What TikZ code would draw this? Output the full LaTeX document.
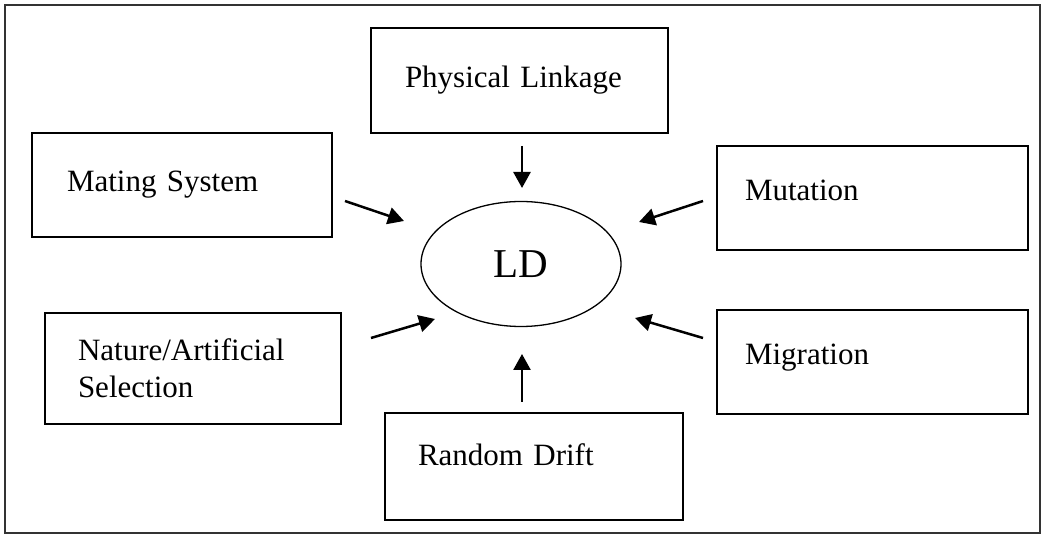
\documentclass[tikz,border=0pt]{standalone}
\usepackage{fontspec}
\setmainfont{Liberation Serif}
\usetikzlibrary{arrows.meta,shapes.geometric}

\tikzset{
    factor/.style={draw, line width=0.65pt, rectangle, align=left, inner ysep=0pt, font=\fontsize{15.5}{18.5}\selectfont},
    push/.style={line width=1.25pt, -{Triangle[length=8pt,width=8.5pt]}},
}

\begin{document}
\begin{tikzpicture}[x=0.5pt, y=-0.5pt]
    \useasboundingbox (0,0) rectangle (1045,539);

    % Outer frame
    \draw[line width=0.6pt, black!80] (5,5) rectangle (1040,533);

    % Central ellipse
    \node[ellipse, draw, line width=0.65pt, minimum width=100pt, minimum height=62.5pt, inner sep=0pt,
          font=\fontsize{20.5}{24}\selectfont] (ld) at (521,264) {LD};

    % Factor boxes
    \node[factor, text width=114.5pt, inner xsep=17pt, minimum height=52.5pt] (pl) at (519.5,80.5) {Physical Linkage};
    \node[factor, text width=115pt, inner xsep=17.5pt, minimum height=52pt] (ms) at (182,185) {Mating System};
    \node[factor, text width=127.5pt, inner xsep=14pt, minimum height=52pt, text depth=8pt] (mu) at (872.5,198) {Mutation};
    \node[factor, text width=127.5pt, inner xsep=14pt, minimum height=52pt, text depth=8pt] (mi) at (872.5,362) {Migration};
    \node[factor, text width=115pt, inner xsep=16.5pt, minimum height=55.5pt] (ns) at (193,368.5) {Nature/Artificial\\Selection};
    \node[factor, text width=116pt, inner xsep=16.5pt, minimum height=53.5pt, text depth=12pt] (rd) at (534,466.5) {Random Drift};

    % Arrow ends
    \coordinate (pl-tail) at (522,146);  \coordinate (pl-head) at (522,188);
    \coordinate (ms-tail) at (345,201);  \coordinate (ms-head) at (404,221);
    \coordinate (mu-tail) at (703,201);  \coordinate (mu-head) at (639,222);
    \coordinate (ns-tail) at (371,338);  \coordinate (ns-head) at (435,319);
    \coordinate (mi-tail) at (703,338);  \coordinate (mi-head) at (635,318);
    \coordinate (rd-tail) at (522,402);  \coordinate (rd-head) at (522,354);

    % Influences on LD
    \foreach \f in {pl,ms,mu,ns,mi,rd} {
        \draw[push] (\f-tail) -- (\f-head);
    }
\end{tikzpicture}
\end{document}
